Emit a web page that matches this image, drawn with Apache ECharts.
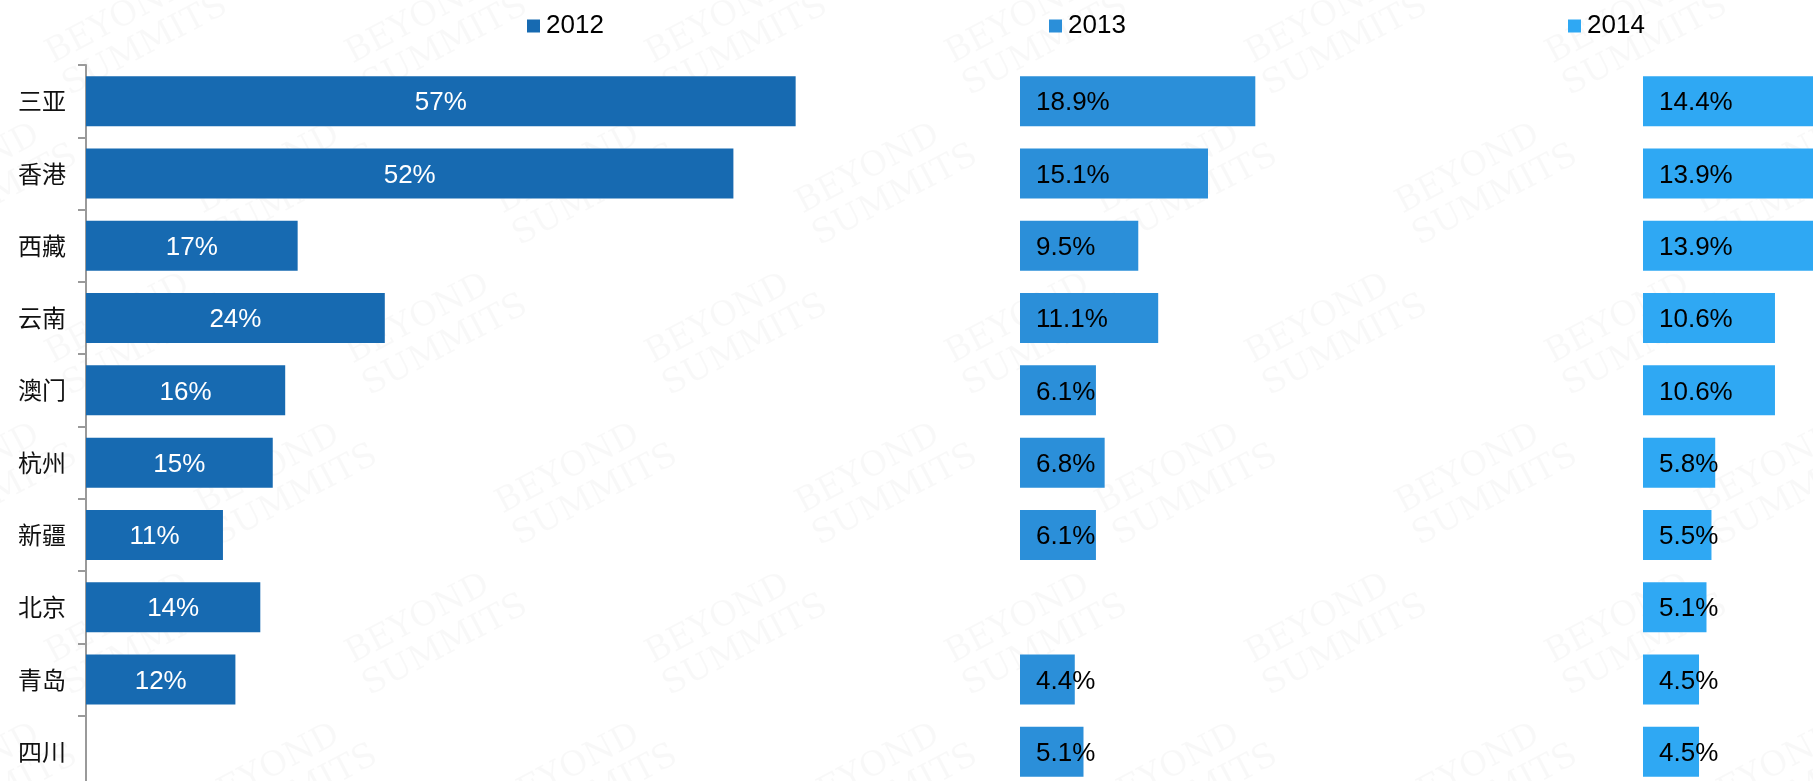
<!DOCTYPE html>
<html>
<head>
<meta charset="utf-8">
<title>热门旅游目的地占比 2012-2014</title>
<script src="https://cdn.jsdelivr.net/npm/echarts@6/dist/echarts.min.js"></script>
<style>
  html, body { margin: 0; padding: 0; background: #ffffff; }
  #chart { width: 1813px; height: 781px; }
</style>
</head>
<body>
<div id="chart"></div>
<script>
// Destinations, top to bottom
const cities = ['三亚', '香港', '西藏', '云南', '澳门', '杭州', '新疆', '北京', '青岛', '四川'];
// Share per destination (%), null where no value is given
const share2012 = [57, 52, 17, 24, 16, 15, 11, 14, 12, null];
const share2013 = [18.9, 15.1, 9.5, 11.1, 6.1, 6.8, 6.1, null, 4.4, 5.1];
const share2014 = [14.4, 13.9, 13.9, 10.6, 10.6, 5.8, 5.5, 5.1, 4.5, 4.5];
const years = ['2012', '2013', '2014'];

const colors = ['#176ab1', '#2b8fd9', '#2fa8f3'];
const numFont = '"Liberation Sans", Arial, sans-serif';
const cjkFont = '"Noto Sans CJK SC", "Noto Sans", sans-serif';

// One pixel scale shared by all three panels; the last panel runs off the right edge
const W = 1813;
const pxPerPct = 12.45;
const panelLefts = [86, 1020, 1643];
const panelWidths = [747, 498, W - 1643];
const legendLefts = [527, 1049, 1568];

const chart = echarts.init(document.getElementById('chart'), null, { renderer: 'canvas' });

// Faint diagonal watermark tiled across the background
const watermark = [];
for (let row = -1; row < 6; row++) {
  for (let col = -1; col < 7; col++) {
    const x = col * 300 + (row % 2 ? 150 : 0) + 40;
    const y = row * 150 + 40;
    watermark.push({
      type: 'text',
      x: x, y: y,
      rotation: Math.PI / 6.5,
      silent: true,
      z: -10,
      style: {
        text: 'BEYOND\nSUMMITS',
        fill: 'rgba(0,0,0,0.028)',
        font: '34px "DejaVu Serif", serif',
        lineHeight: 36
      }
    });
  }
}

const dataSets = [share2012, share2013, share2014];

const option = {
  animation: false,
  backgroundColor: '#ffffff',
  graphic: watermark,
  legend: years.map((y, i) => ({
    data: [y],
    left: legendLefts[i],
    top: 13,
    padding: 0,
    icon: 'rect',
    itemWidth: 13,
    itemHeight: 13,
    itemGap: 6,
    selectedMode: false,
    textStyle: { fontSize: 26, fontFamily: numFont, color: '#000', padding: [0, 0, 0, 1] }
  })),
  grid: panelLefts.map((left, i) => ({
    left: left,
    top: 65,
    width: panelWidths[i],
    height: 723,
    outerBoundsMode: 'none',
    containLabel: false
  })),
  xAxis: panelWidths.map((w, i) => ({
    type: 'value',
    gridIndex: i,
    min: 0,
    max: w / pxPerPct,
    show: false
  })),
  yAxis: panelLefts.map((left, i) => ({
    type: 'category',
    gridIndex: i,
    data: cities,
    inverse: true,
    show: i === 0,
    axisLine: { show: true, lineStyle: { color: '#9a9a9a', width: 2 } },
    axisTick: { show: true, length: 8, lineStyle: { color: '#9a9a9a', width: 2 } },
    axisLabel: { fontSize: 24, fontFamily: cjkFont, color: '#111', margin: 20, padding: [2, 0, 0, 0] },
    splitLine: { show: false }
  })),
  series: years.map((y, i) => ({
    name: y,
    type: 'bar',
    xAxisIndex: i,
    yAxisIndex: i,
    data: dataSets[i],
    barWidth: 50,
    clip: true,
    itemStyle: { color: colors[i] },
    label: i === 0 ? {
      show: true,
      position: 'inside',
      offset: [0, 2],
      formatter: '{c}%',
      color: '#ffffff',
      fontSize: 26,
      fontFamily: numFont
    } : {
      show: true,
      position: 'insideLeft',
      distance: 16,
      offset: [0, 2],
      formatter: '{c}%',
      color: '#000000',
      fontSize: 26,
      fontFamily: numFont
    }
  }))
};

chart.setOption(option);
</script>
</body>
</html>
